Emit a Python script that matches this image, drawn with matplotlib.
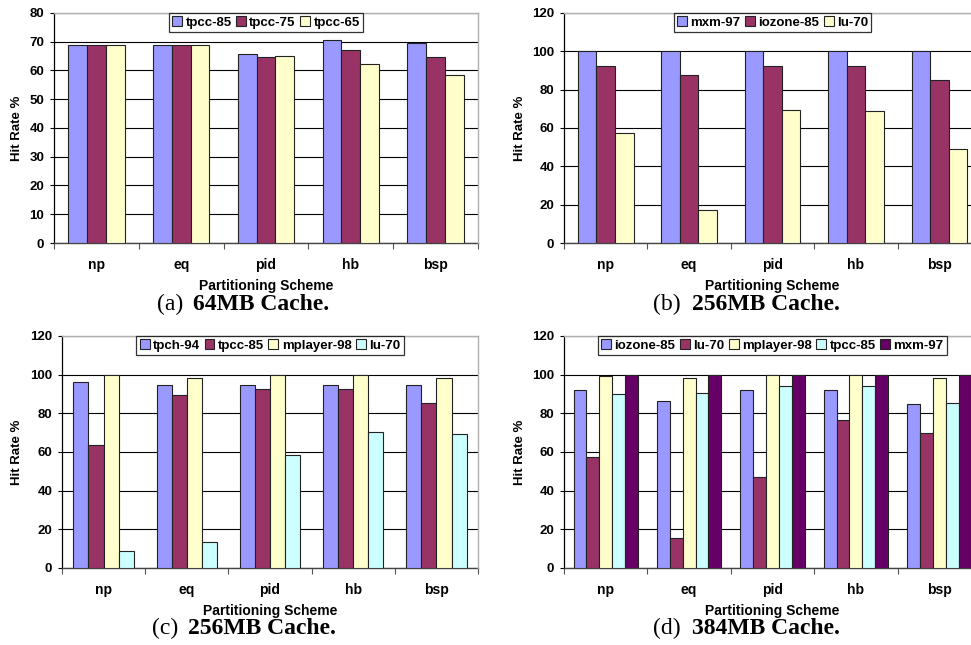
import matplotlib
matplotlib.use("Agg")
import matplotlib.pyplot as plt
import numpy as np

W, H = 971, 645

schemes = ["np", "eq", "pid", "hb", "bsp"]

# (a) 64MB Cache
a_series = ["tpcc-85", "tpcc-75", "tpcc-65"]
a_tpcc85 = [69.0, 69.0, 65.6, 70.7, 69.4]
a_tpcc75 = [69.0, 69.0, 64.8, 67.1, 64.8]
a_tpcc65 = [69.0, 69.0, 65.0, 62.4, 58.5]

# (b) 256MB Cache
b_series = ["mxm-97", "iozone-85", "lu-70"]
b_mxm97 = [100.0, 100.0, 100.0, 100.0, 100.0]
b_iozone85 = [92.5, 87.8, 92.5, 92.5, 85.1]
b_lu70 = [57.2, 17.3, 69.3, 68.8, 48.8]

# (c) 256MB Cache
c_series = ["tpch-94", "tpcc-85", "mplayer-98", "lu-70"]
c_tpch94 = [96.0, 94.8, 94.8, 94.8, 94.8]
c_tpcc85 = [63.4, 89.3, 92.4, 92.4, 85.3]
c_mplayer98 = [100.0, 98.3, 100.0, 100.0, 98.1]
c_lu70 = [9.0, 13.5, 58.5, 70.5, 69.1]

# (d) 384MB Cache
d_series = ["iozone-85", "lu-70", "mplayer-98", "tpcc-85", "mxm-97"]
d_iozone85 = [92.2, 86.2, 92.2, 92.2, 84.8]
d_lu70 = [57.5, 15.5, 47.0, 76.5, 70.0]
d_mplayer98 = [99.1, 98.3, 100.0, 100.0, 98.1]
d_tpcc85 = [89.8, 90.3, 94.1, 94.0, 85.3]
d_mxm97 = [100.0, 100.0, 100.0, 100.0, 100.0]

BLUE, MAROON, YELLOW, CYAN, PURPLE = "#9999FF", "#993366", "#FFFFCC", "#CCFFFF", "#660066"

SANS = ["Liberation Sans", "DejaVu Sans"]
SERIF = ["Liberation Serif", "DejaVu Serif"]

fig = plt.figure(figsize=(W / 100, H / 100), dpi=100)


def fx(x):
    return x / W


def fy(y):
    return 1 - y / H


def panel(left, top, right, bottom, series_names, values, colors, ymax, ystep,
          letter, title, ylab_x, cap_y, cap_split_left, cap_split_right):
    ax = fig.add_axes([fx(left), fy(bottom), fx(right - left), (bottom - top) / H])
    n = len(values)
    w = 1.0 / (n + 1.5)
    x = np.arange(len(schemes))
    handles = []
    for i, (vals, col, name) in enumerate(zip(values, colors, series_names)):
        off = (i - (n - 1) / 2) * w
        b = ax.bar(x + off, vals, width=w, color=col, edgecolor="#222222",
                   linewidth=0.8, label=name, zorder=3)
        handles.append(b)
    ax.set_xlim(-0.5, 4.5)
    ax.set_ylim(0, ymax)
    ticks = np.arange(0, ymax + 0.1, ystep)
    ax.set_yticks(ticks)
    ax.set_yticklabels([f"{int(v)}" for v in ticks],
                       fontfamily=SANS, fontweight="bold", fontsize=9.5)
    ax.yaxis.grid(True, color="black", linewidth=0.8, zorder=0)
    ax.set_axisbelow(True)
    ax.tick_params(axis="y", direction="out", length=3, width=0.8, pad=4, color="black")
    ax.set_xticks(np.arange(-0.5, 4.6, 1.0))
    ax.set_xticklabels([])
    ax.tick_params(axis="x", which="major", direction="out", length=4, width=0.8, color="#555555")
    ax.set_xticks(x, minor=True)
    ax.set_xticklabels(schemes, minor=True, fontfamily=SANS, fontweight="bold", fontsize=10)
    ax.tick_params(axis="x", which="minor", length=0, pad=10.5)
    ax.spines["left"].set_color("black")
    ax.spines["left"].set_linewidth(0.9)
    ax.spines["bottom"].set_color("#444444")
    ax.spines["bottom"].set_linewidth(1.0)
    for s in ("top", "right"):
        ax.spines[s].set_color("#b0b0b0")
        ax.spines[s].set_linewidth(1.0)
        ax.spines[s].set_zorder(5)
    leg = ax.legend(handles=handles, loc="upper center", bbox_to_anchor=(0.5, 1.0),
                    ncol=n, borderaxespad=0, frameon=True, fancybox=False,
                    handlelength=0.75, handleheight=0.75, handletextpad=0.25,
                    columnspacing=0.35, borderpad=0.25,
                    prop={"family": SANS, "weight": "bold", "size": 9.5})
    leg.get_frame().set_edgecolor("black")
    leg.get_frame().set_linewidth(0.9)
    leg.set_zorder(10)
    # axis labels
    fig.text(fx((left + right) / 2), fy(bottom + 43), "Partitioning Scheme",
             ha="center", va="center", fontfamily=SANS, fontweight="bold", fontsize=10)
    fig.text(fx(ylab_x), fy((top + bottom) / 2), "Hit Rate %", rotation=90,
             ha="center", va="center", fontfamily=SANS, fontweight="bold", fontsize=9.5)
    # caption
    fig.text(fx(cap_split_left), fy(cap_y), f"({letter})", ha="right", va="center",
             fontfamily=SERIF, fontsize=17)
    fig.text(fx(cap_split_right), fy(cap_y), title, ha="left", va="center",
             fontfamily=SERIF, fontweight="bold", fontsize=17)
    return ax


panel(54, 13, 478, 243, a_series, [a_tpcc85, a_tpcc75, a_tpcc65],
      [BLUE, MAROON, YELLOW], 80, 10, "a", "64MB Cache.", 17, 304, 183, 193)
panel(564, 13, 981, 243, b_series, [b_mxm97, b_iozone85, b_lu70],
      [BLUE, MAROON, YELLOW], 120, 20, "b", "256MB Cache.", 520, 304, 681, 692)
panel(62, 336, 478, 568, c_series, [c_tpch94, c_tpcc85, c_mplayer98, c_lu70],
      [BLUE, MAROON, YELLOW, CYAN], 120, 20, "c", "256MB Cache.", 17, 628, 178, 188)
panel(564, 336, 981, 568, d_series, [d_iozone85, d_lu70, d_mplayer98, d_tpcc85, d_mxm97],
      [BLUE, MAROON, YELLOW, CYAN, PURPLE], 120, 20, "d", "384MB Cache.", 520, 628, 681, 692)

fig.savefig("out.png", dpi=100)
